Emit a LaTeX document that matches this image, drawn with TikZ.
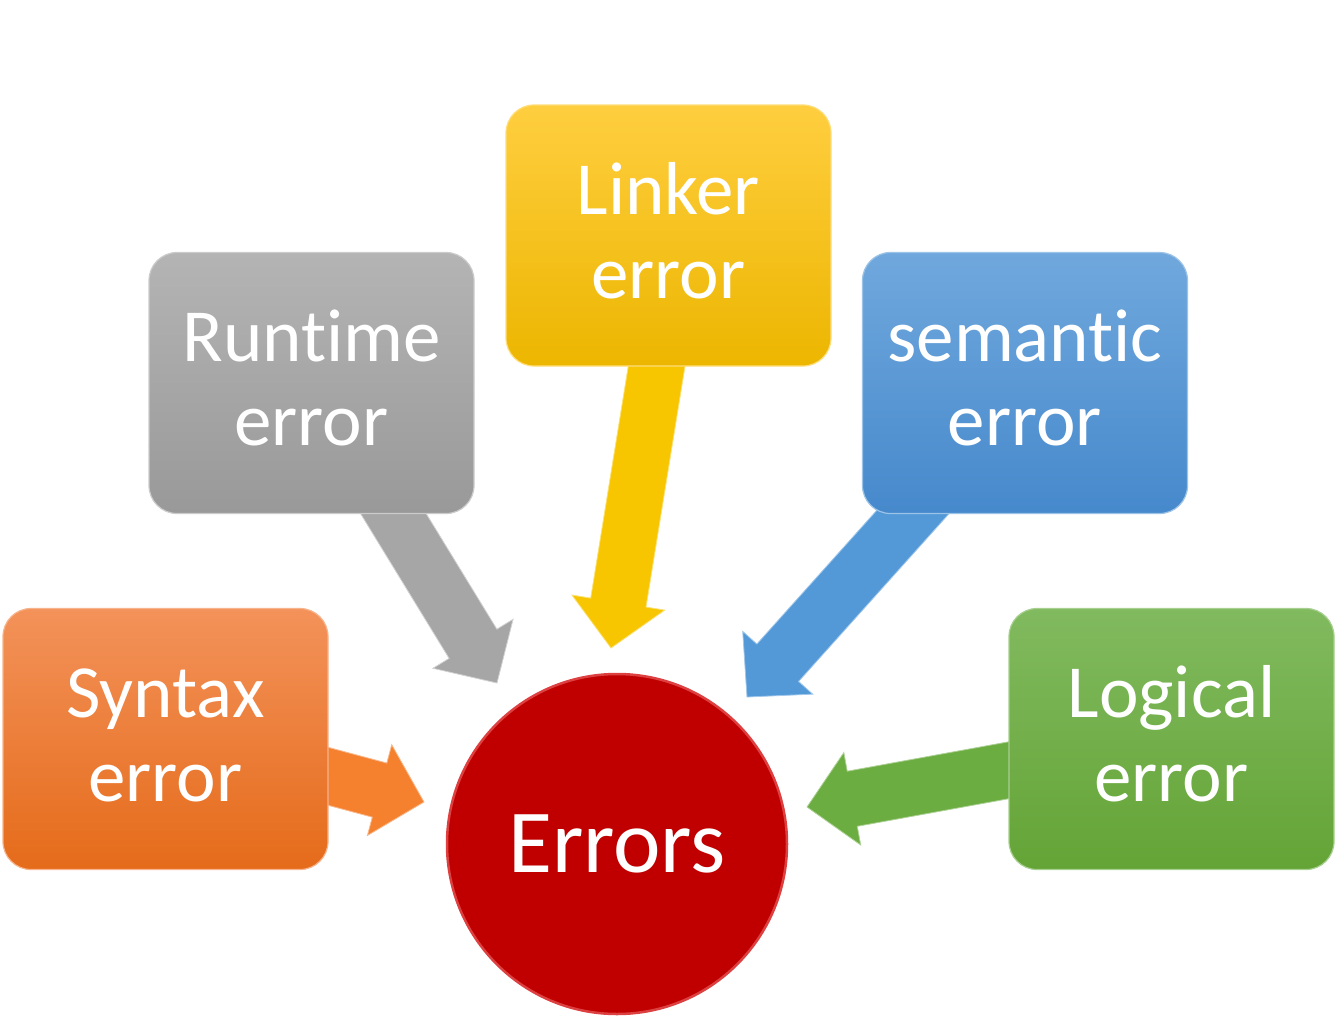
\documentclass[tikz,border=0pt]{standalone}
\usepackage{fontspec}
\setmainfont{Carlito}[Ligatures={NoCommon}]
\usetikzlibrary{calc}
\definecolor{orTop}{HTML}{F3925A}
\definecolor{orBot}{HTML}{E56B1A}
\definecolor{orArr}{HTML}{F5812F}
\definecolor{grTop}{HTML}{B4B4B4}
\definecolor{grBot}{HTML}{999999}
\definecolor{grArr}{HTML}{A6A6A6}
\definecolor{yeTop}{HTML}{FFCE3F}
\definecolor{yeBot}{HTML}{ECB600}
\definecolor{yeArr}{HTML}{F7C600}
\definecolor{blTop}{HTML}{70A8DD}
\definecolor{blBot}{HTML}{4689CC}
\definecolor{blArr}{HTML}{5399D8}
\definecolor{gnTop}{HTML}{81BA5F}
\definecolor{gnBot}{HTML}{64A436}
\definecolor{gnArr}{HTML}{6CAD42}
\definecolor{errRed}{HTML}{C00000}
\definecolor{errRim}{HTML}{DD4040}
\newcommand\twolines[2]{\rule{0pt}{70pt}#1\\#2\rule[-29pt]{0pt}{29pt}}
\newcommand\blockarrow[3]{%
  \coordinate (bas) at ($(#1)!-40pt!(#2)$);
  \coordinate (bab) at ($(#2)!46pt!(#1)$);
  \filldraw[#3] ($(bas)!28pt!90:(#2)$) -- ($(bab)!28pt!90:(#2)$) --
    ($(bab)!47pt!90:(#2)$) -- (#2) -- ($(bab)!47pt!-90:(#2)$) --
    ($(bab)!28pt!-90:(#2)$) -- ($(bas)!28pt!-90:(#2)$) -- cycle;
}
\begin{document}
\begin{tikzpicture}[x=1pt,y=-1pt,
  box/.style={rectangle, rounded corners=28pt, minimum width=325pt,
    minimum height=261pt, inner sep=0pt, align=center, text=white,
    font=\fontsize{75}{84}\selectfont, line width=1.2pt},
  arr/.style={line width=0.8pt, line join=miter}]
\useasboundingbox (0,0) rectangle (1344,1018);

% node positions
\path (165.5,739) coordinate (csyn);
\path (311.5,383) coordinate (crun);
\path (668.5,235.5) coordinate (clin);
\path (1025,383) coordinate (csem);
\path (1171.5,739) coordinate (clog);

% connector ends
\coordinate (synS) at (327,776);
\coordinate (runS) at (393,513);
\coordinate (linS) at (657,364);
\coordinate (semS) at (912,513);
\coordinate (logS) at (1010,770);
\coordinate (synT) at (424,802);
\coordinate (runT) at (497,683);
\coordinate (linT) at (611,648);
\coordinate (semT) at (747,697);
\coordinate (logT) at (807,807);

% arrows
\blockarrow{synS}{synT}{arr, fill=orArr, draw=orArr!55!white}
\blockarrow{runS}{runT}{arr, fill=grArr, draw=grArr!50!white}
\blockarrow{linS}{linT}{arr, fill=yeArr, draw=yeArr!55!white}
\blockarrow{semS}{semT}{arr, fill=blArr, draw=blArr!55!white}
\blockarrow{logS}{logT}{arr, fill=gnArr, draw=gnArr!55!white}

% boxes
\node[box, top color=orTop, bottom color=orBot, draw=orTop!70!white] (syntax) at (csyn) {\twolines{Syntax}{error}};
\node[box, top color=grTop, bottom color=grBot, draw=grTop!70!white] (runtime) at (crun) {\twolines{Runtime}{error}};
\node[box, top color=yeTop, bottom color=yeBot, draw=yeTop!70!white] (linker) at (clin) {\twolines{Linker}{error}};
\node[box, top color=blTop, bottom color=blBot, draw=blTop!70!white] (semantic) at (csem) {\twolines{semantic}{error}};
\node[box, top color=gnTop, bottom color=gnBot, draw=gnTop!70!white] (logical) at (clog) {\twolines{Logical}{error}};

% centre
\node[circle, minimum size=340pt, inner sep=0pt, fill=errRed, draw=errRim,
  line width=2.5pt, text=white, font=\fontsize{90}{100}\selectfont] (errors) at (617,844) {Errors};
\end{tikzpicture}
\end{document}
